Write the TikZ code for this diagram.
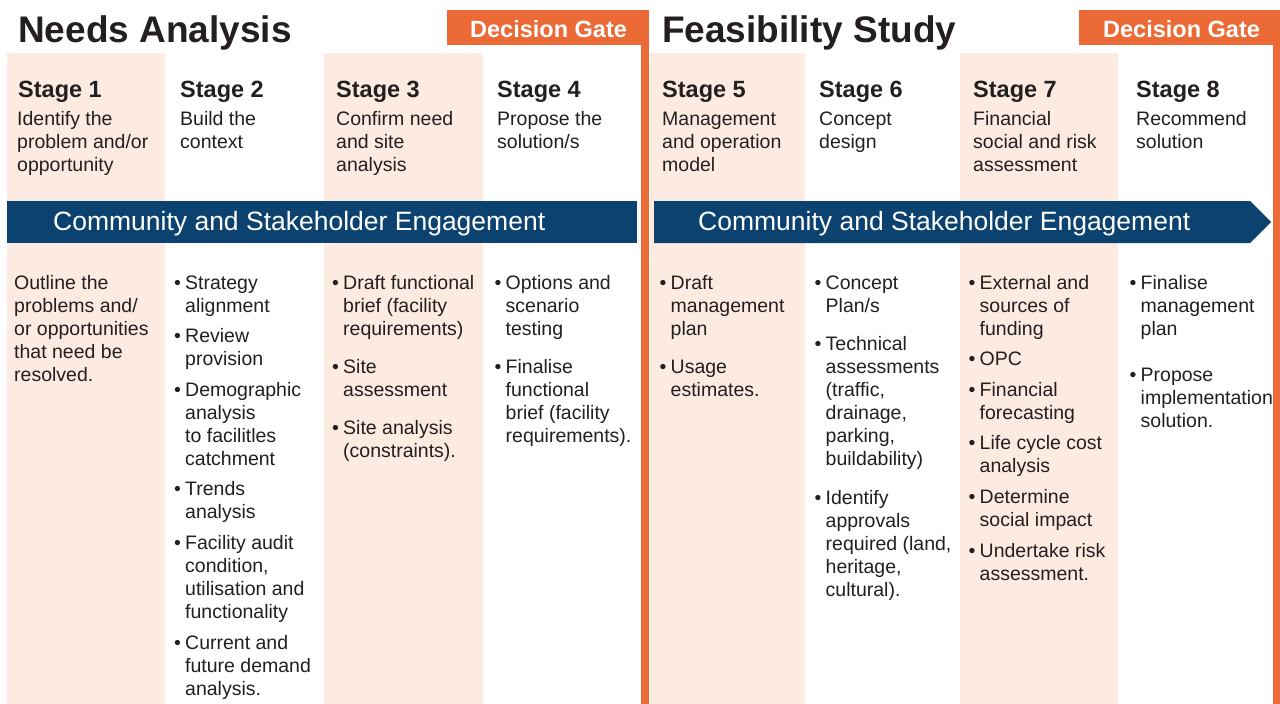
\documentclass[tikz,border=0pt]{standalone}
\usepackage{fontspec}
\setmainfont{Liberation Sans}
\definecolor{stageshade}{HTML}{FDEBE1}
\definecolor{gate}{HTML}{EC6A36}
\definecolor{bandblue}{HTML}{0C426F}
\definecolor{ink}{HTML}{231F20}
\newcommand\itm[1]{\par\hangindent=11pt\hangafter=1\noindent\hbox to 11pt{\textbullet\hss}#1\par}
\newcommand\colbox[2]{\parbox[t]{170pt}{\setlength\parskip{#1}#2}}
\tikzset{
  bigtitle/.style={anchor=base west, inner sep=0pt, font=\fontsize{37}{40}\selectfont\bfseries, text=ink},
  stagehead/.style={anchor=base west, inner sep=0pt, font=\fontsize{23.5}{26}\selectfont\bfseries, text=ink},
  desc/.style={anchor=base west, inner sep=0pt, font=\fontsize{19.5}{23}\selectfont, text=ink},
  gatetext/.style={anchor=base west, inner sep=0pt, font=\fontsize{23.5}{26}\selectfont\bfseries, text=white},
  bandtext/.style={anchor=base west, inner sep=0pt, font=\fontsize{26.5}{30}\selectfont, text=white},
}
\begin{document}
\begin{tikzpicture}[x=1pt,y=-1pt]
\useasboundingbox (0,0) rectangle (1280,704);
\fill[white] (0,0) rectangle (1280,704);
% shaded stage columns
\fill[stageshade] (7,53) rectangle (165,704);
\fill[stageshade] (324,53) rectangle (483,704);
\fill[stageshade] (650,53) rectangle (805,704);
\fill[stageshade] (960,53) rectangle (1118,704);
% engagement bands
\fill[bandblue] (7,201) rectangle (637,243);
\fill[bandblue] (654,201) -- (1250,201) -- (1271,222) -- (1250,243) -- (654,243) -- cycle;
% decision gates
\fill[gate] (447,10) rectangle (649,45);
\fill[gate] (641,10) rectangle (649,704);
\fill[gate] (1079,10) rectangle (1280,45);
\fill[gate] (1273,10) rectangle (1280,704);

% titles
\node[bigtitle] (needs) at (18,42) {Needs Analysis};
\node[bigtitle] (feas) at (662,42) {Feasibility Study};
\node[gatetext] (gate1) at (470,37) {Decision Gate};
\node[gatetext] (gate2) at (1103,37) {Decision Gate};

% stage headings
\node[stagehead] (s1) at (18,97) {Stage 1};
\node[stagehead] (s2) at (180,97) {Stage 2};
\node[stagehead] (s3) at (336,97) {Stage 3};
\node[stagehead] (s4) at (497,97) {Stage 4};
\node[stagehead] (s5) at (662,97) {Stage 5};
\node[stagehead] (s6) at (819,97) {Stage 6};
\node[stagehead] (s7) at (973,97) {Stage 7};
\node[stagehead] (s8) at (1136,97) {Stage 8};

% stage descriptions
\node[desc] (d1) at (17,125) {\colbox{0pt}{Identify the\\problem and/or\\opportunity}};
\node[desc] (d2) at (180,125) {\colbox{0pt}{Build the\\context}};
\node[desc] (d3) at (336,125) {\colbox{0pt}{Confirm need\\and site\\analysis}};
\node[desc] (d4) at (497,125) {\colbox{0pt}{Propose the\\solution/s}};
\node[desc] (d5) at (662,125) {\colbox{0pt}{Management\\and operation\\model}};
\node[desc] (d6) at (819,125) {\colbox{0pt}{Concept\\design}};
\node[desc] (d7) at (973,125) {\colbox{0pt}{Financial\\social and risk\\assessment}};
\node[desc] (d8) at (1136,125) {\colbox{0pt}{Recommend\\solution}};

% band labels
\node[bandtext] (band1) at (53,230) {Community and Stakeholder Engagement};
\node[bandtext] (band2) at (698,230) {Community and Stakeholder Engagement};

% lower activity lists
\node[desc] (l1) at (14,289) {\colbox{0pt}{Outline the\\problems and/\\or opportunities\\that need be\\resolved.}};
\node[desc] (l2) at (174,289) {\colbox{7.6pt}{%
  \itm{Strategy\\alignment}%
  \itm{Review\\provision}%
  \itm{Demographic\\analysis\\to facilitles\\catchment}%
  \itm{Trends\\analysis}%
  \itm{Facility audit\\condition,\\utilisation and\\functionality}%
  \itm{Current and\\future demand\\analysis.}}};
\node[desc] (l3) at (332,289) {\colbox{15pt}{%
  \itm{Draft functional\\brief (facility\\requirements)}%
  \itm{Site\\assessment}%
  \itm{Site analysis\\(constraints).}}};
\node[desc] (l4) at (494.5,289) {\colbox{15pt}{%
  \itm{Options and\\scenario\\testing}%
  \itm{Finalise\\functional\\brief (facility\\requirements).}}};
\node[desc] (l5) at (659.5,289) {\colbox{15pt}{%
  \itm{Draft\\management\\plan}%
  \itm{Usage\\estimates.}}};
\node[desc] (l6) at (814.5,289) {\colbox{15.5pt}{%
  \itm{Concept\\Plan/s}%
  \itm{Technical\\assessments\\(traffic,\\drainage,\\parking,\\buildability)}%
  \itm{Identify\\approvals\\required (land,\\heritage,\\cultural).}}};
\node[desc] (l7) at (968.5,289) {\colbox{7.6pt}{%
  \itm{External and\\sources of\\funding}%
  \itm{OPC}%
  \itm{Financial\\forecasting}%
  \itm{Life cycle cost\\analysis}%
  \itm{Determine\\social impact}%
  \itm{Undertake risk\\assessment.}}};
\node[desc] (l8) at (1129.5,289) {\colbox{23pt}{%
  \itm{Finalise\\management\\plan}%
  \itm{Propose\\implementation\\solution.}}};
\end{tikzpicture}
\end{document}
